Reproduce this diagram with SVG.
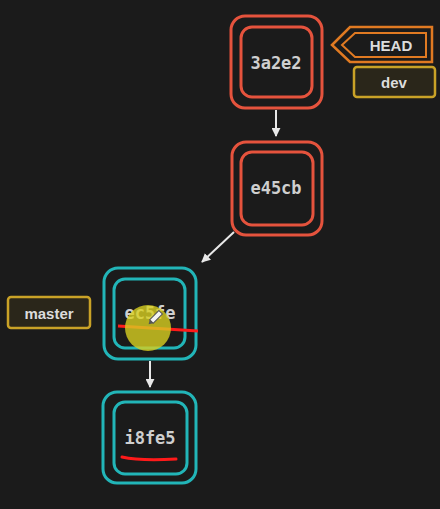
<svg xmlns="http://www.w3.org/2000/svg" width="440" height="509" viewBox="0 0 440 509">
<style>
.bg{fill:#1b1b1b}
.red{fill:none;stroke:#e5533d;stroke-width:3}
.cyan{fill:none;stroke:#22b5b8;stroke-width:3}
.hash{font-family:"DejaVu Sans Mono",monospace;font-size:17px;font-weight:bold;fill:#cfcfcf;text-anchor:middle;dominant-baseline:central}
.lbl{font-family:"Liberation Sans",Arial,sans-serif;font-size:15px;font-weight:bold;fill:#dcdcdc;text-anchor:middle;dominant-baseline:central}
.tag{fill:#2a261a;stroke:#c9a227;stroke-width:2.5}
.conn{stroke:#e8e8e8;stroke-width:2;fill:none}
</style>
<defs>
<marker id="ah" viewBox="0 0 10 10" refX="9" refY="5" markerWidth="4.5" markerHeight="4.5" orient="auto">
<path d="M0,0 L10,5 L0,10 z" fill="#e8e8e8"/>
</marker>
</defs>
<rect class="bg" x="0" y="0" width="440" height="509"/>
<g id="connectors">
<line class="conn" x1="276" y1="110" x2="276" y2="136" marker-end="url(#ah)"/>
<line class="conn" x1="234" y1="232" x2="202" y2="262" marker-end="url(#ah)"/>
<line class="conn" x1="150" y1="361" x2="150" y2="387" marker-end="url(#ah)"/>
</g>
<g id="node-3a2e2">
<rect class="red" x="231" y="16" width="91" height="92" rx="14"/>
<rect class="red" x="241" y="27" width="71" height="70" rx="11"/>
<text class="hash" x="276" y="63">3a2e2</text>
</g>
<g id="node-e45cb">
<rect class="red" x="232" y="142" width="90" height="93" rx="14"/>
<rect class="red" x="241" y="152" width="72" height="73" rx="11"/>
<text class="hash" x="276" y="188">e45cb</text>
</g>
<g id="node-ec5fe">
<rect class="cyan" x="104" y="268" width="92" height="91" rx="14"/>
<rect class="cyan" x="114" y="279" width="71" height="69" rx="11"/>
<text class="hash" x="150" y="313">ec5fe</text>
<path d="M118,326 L198,331" stroke="#ff1a1a" stroke-width="3" fill="none"/>
<circle cx="148" cy="328" r="23" fill="#d8d020" fill-opacity="0.8"/>
<g transform="translate(155,318) rotate(45)">
<rect x="-2.5" y="-8" width="5" height="13" fill="#f4f4f4" stroke="#555" stroke-width="1"/>
<path d="M-2.5,5 L0,9 L2.5,5 z" fill="#555"/>
</g>
</g>
<g id="node-i8fe5">
<rect class="cyan" x="103" y="392" width="93" height="91" rx="14"/>
<rect class="cyan" x="114" y="402" width="73" height="72" rx="11"/>
<text class="hash" x="150" y="438">i8fe5</text>
<path d="M122,457 Q140,461 176,459" stroke="#ff1a1a" stroke-width="3" fill="none" stroke-linecap="round"/>
</g>
<g id="label-HEAD">
<polygon points="332,45 350,27 432,27 432,62 350,62" fill="#1b1b1b" stroke="#e07a22" stroke-width="2.5"/>
<polygon points="342,45 355,33 426,33 426,57 355,57" fill="none" stroke="#e07a22" stroke-width="2"/>
<text class="lbl" x="391" y="45">HEAD</text>
</g>
<g id="label-dev">
<rect class="tag" x="354" y="67" width="81" height="30" rx="3"/>
<text class="lbl" x="394" y="82">dev</text>
</g>
<g id="label-master">
<rect class="tag" x="8" y="297" width="82" height="31" rx="3"/>
<text class="lbl" x="49" y="313">master</text>
</g>
</svg>
